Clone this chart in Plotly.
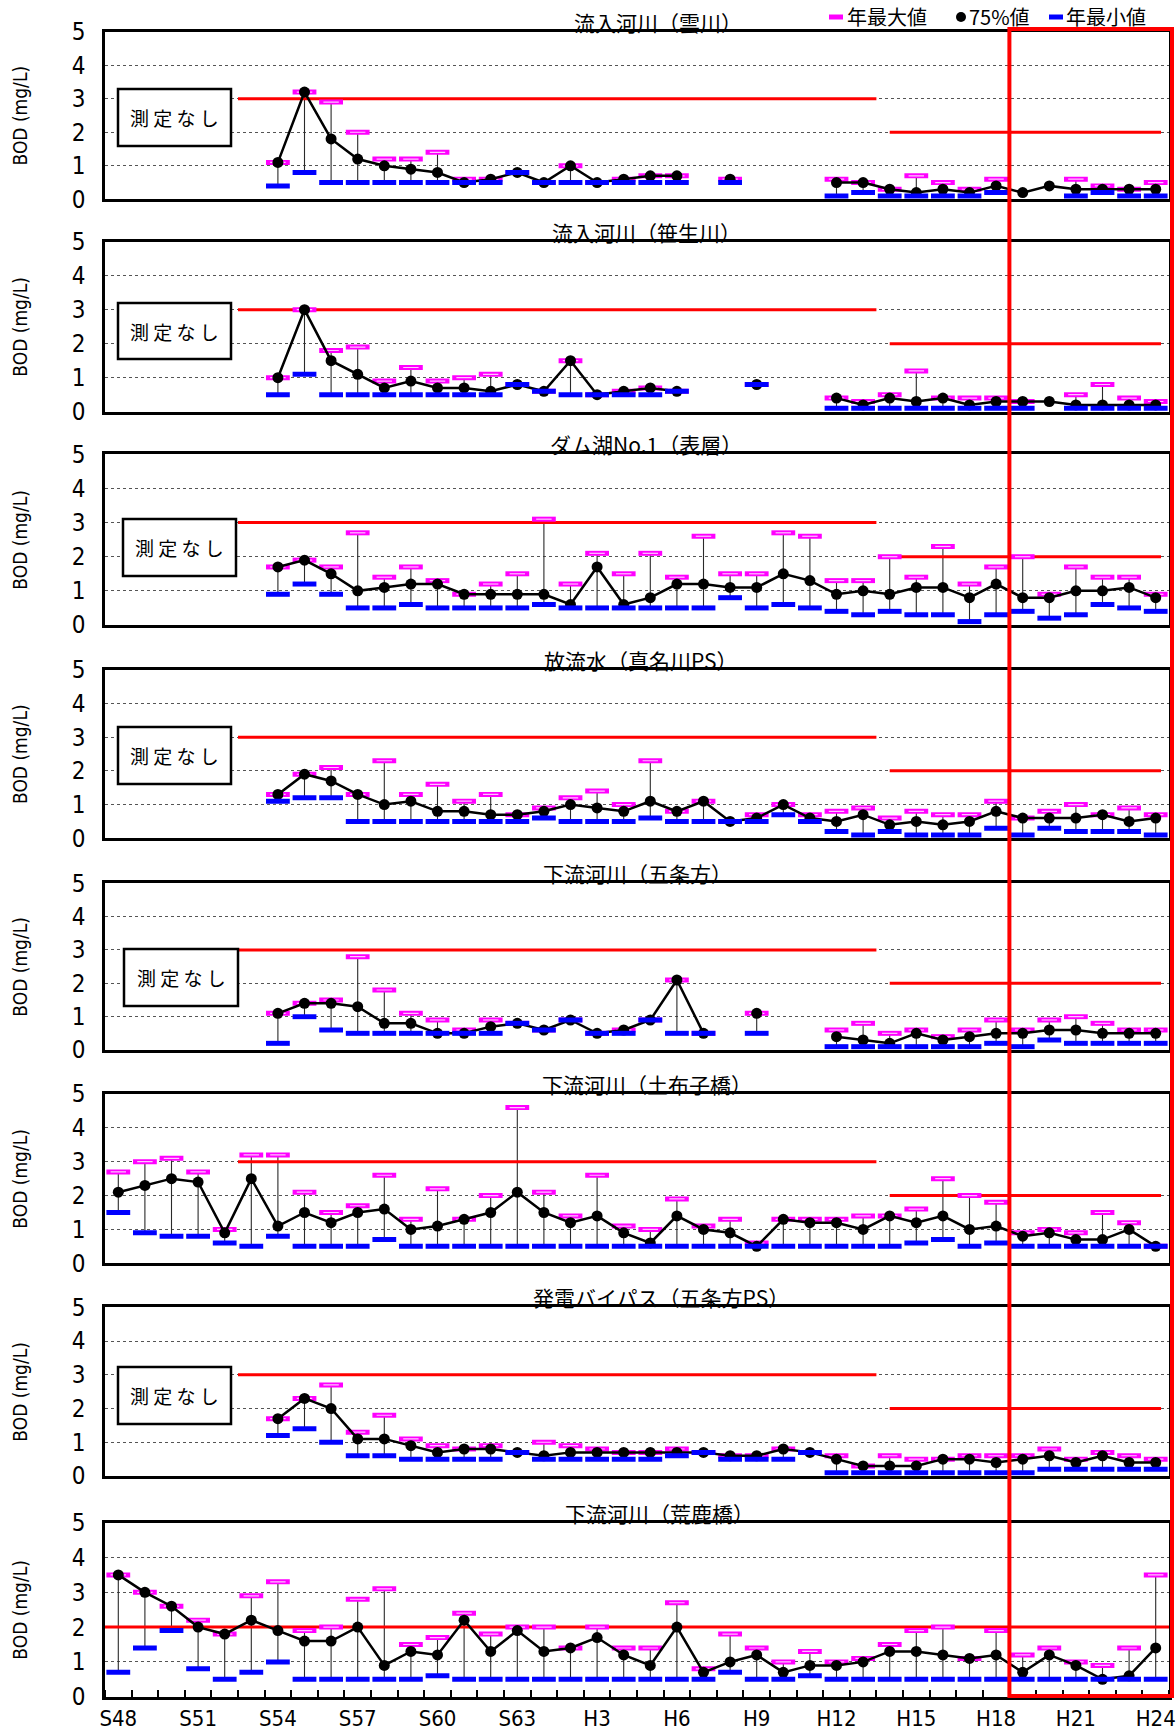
import plotly.graph_objects as go

# ---------------- data ----------------
years = [f"S{y}" for y in range(48, 64)] + [f"H{y}" for y in range(1, 25)]
tick_labels = ["S48", "S51", "S54", "S57", "S60", "S63", "H3", "H6", "H9",
               "H12", "H15", "H18", "H21", "H24"]

N = None
titles = ["流入河川（雲川）", "流入河川（笹生川）", "ダム湖No.1（表層）", "放流水（真名川PS）",
          "下流河川（五条方）", "下流河川（土布子橋）", "発電バイパス（五条方PS）", "下流河川（荒鹿橋）"]

# 1 流入河川(雲川)
kumo_p75 = [N]*6 + [1.1, 3.2, 1.8, 1.2, 1.0, 0.9, 0.8, 0.5, 0.6, 0.8, 0.5, 1.0, 0.5, 0.6, 0.7, 0.7] + [N, 0.6, N, N, N] + \
           [0.5, 0.5, 0.3, 0.2, 0.3, 0.2, 0.4, 0.2, 0.4, 0.3, 0.3, 0.3, 0.3]
kumo_max = [N]*6 + [1.1, 3.2, 2.9, 2.0, 1.2, 1.2, 1.4, 0.6, 0.6, 0.8, 0.5, 1.0, 0.5, 0.6, 0.7, 0.7] + [N, 0.6, N, N, N] + \
           [0.6, 0.5, 0.3, 0.7, 0.5, 0.3, 0.6, N, N, 0.6, 0.4, 0.3, 0.5]
kumo_min = [N]*6 + [0.4, 0.8, 0.5, 0.5, 0.5, 0.5, 0.5, 0.5, 0.5, 0.8, 0.5, 0.5, 0.5, 0.5, 0.5, 0.5] + [N, 0.5, N, N, N] + \
           [0.1, 0.2, 0.1, 0.1, 0.1, 0.1, 0.2, N, N, 0.1, 0.2, 0.1, 0.1]

# 2 流入河川(笹生川)
sasou_p75 = [N]*6 + [1.0, 3.0, 1.5, 1.1, 0.7, 0.9, 0.7, 0.7, 0.6, 0.8, 0.6, 1.5, 0.5, 0.6, 0.7, 0.6] + [N, N, 0.8, N, N] + \
            [0.4, 0.2, 0.4, 0.3, 0.4, 0.2, 0.3, 0.3, 0.3, 0.2, 0.2, 0.2, 0.2]
sasou_max = [N]*6 + [1.0, 3.0, 1.8, 1.9, 0.9, 1.3, 0.9, 1.0, 1.1, 0.8, 0.6, 1.5, 0.5, 0.6, 0.7, 0.6] + [N, N, 0.8, N, N] + \
            [0.4, 0.3, 0.5, 1.2, 0.4, 0.4, 0.4, 0.3, N, 0.5, 0.8, 0.4, 0.3]
sasou_min = [N]*6 + [0.5, 1.1, 0.5, 0.5, 0.5, 0.5, 0.5, 0.5, 0.5, 0.8, 0.6, 0.5, 0.5, 0.5, 0.5, 0.6] + [N, N, 0.8, N, N] + \
            [0.1, 0.1, 0.1, 0.1, 0.1, 0.1, 0.1, 0.1, N, 0.1, 0.1, 0.1, 0.1]

# 3 ダム湖No.1(表層)
dam_p75 = [N]*6 + [1.7, 1.9, 1.5, 1.0, 1.1, 1.2, 1.2, 0.9, 0.9, 0.9, 0.9, 0.6, 1.7, 0.6, 0.8, 1.2, 1.2,
                   1.1, 1.1, 1.5, 1.3, 0.9, 1.0, 0.9, 1.1, 1.1, 0.8, 1.2, 0.8, 0.8, 1.0, 1.0, 1.1, 0.8]
dam_max = [N]*6 + [1.7, 1.9, 1.7, 2.7, 1.4, 1.7, 1.3, 0.9, 1.2, 1.5, 3.1, 1.2, 2.1, 1.5, 2.1, 1.4, 2.6,
                   1.5, 1.5, 2.7, 2.6, 1.3, 1.3, 2.0, 1.4, 2.3, 1.2, 1.7, 2.0, 0.9, 1.7, 1.4, 1.4, 0.9]
dam_min = [N]*6 + [0.9, 1.2, 0.9, 0.5, 0.5, 0.6, 0.5, 0.5, 0.5, 0.5, 0.6, 0.5, 0.5, 0.5, 0.5, 0.5, 0.5,
                   0.8, 0.5, 0.6, 0.5, 0.4, 0.3, 0.4, 0.3, 0.3, 0.1, 0.3, 0.4, 0.2, 0.3, 0.6, 0.5, 0.4]

# 4 放流水(真名川PS)
hou_p75 = [N]*6 + [1.3, 1.9, 1.7, 1.3, 1.0, 1.1, 0.8, 0.8, 0.7, 0.7, 0.8, 1.0, 0.9, 0.8, 1.1, 0.8, 1.1,
                   0.5, 0.6, 1.0, 0.6, 0.5, 0.7, 0.4, 0.5, 0.4, 0.5, 0.8, 0.6, 0.6, 0.6, 0.7, 0.5, 0.6]
hou_max = [N]*6 + [1.3, 1.9, 2.1, 1.3, 2.3, 1.3, 1.6, 1.1, 1.3, 0.7, 0.9, 1.2, 1.4, 1.0, 2.3, 0.8, 1.1,
                   0.5, 0.7, 1.0, 0.7, 0.8, 0.9, 0.6, 0.8, 0.7, 0.7, 1.1, 0.6, 0.8, 1.0, 0.7, 0.9, 0.7]
hou_min = [N]*6 + [1.1, 1.2, 1.2, 0.5, 0.5, 0.5, 0.5, 0.5, 0.5, 0.5, 0.6, 0.5, 0.5, 0.5, 0.6, 0.5, 0.5,
                   0.5, 0.5, 0.7, 0.5, 0.2, 0.1, 0.2, 0.1, 0.1, 0.1, 0.3, 0.1, 0.3, 0.2, 0.2, 0.2, 0.1]

# 5 下流河川(五条方)
gojo_p75 = [N]*6 + [1.1, 1.4, 1.4, 1.3, 0.8, 0.8, 0.5, 0.5, 0.7, 0.8, 0.6, 0.9, 0.5, 0.6, 0.9, 2.1, 0.5] + [N, 1.1, N, N] + \
           [0.4, 0.3, 0.2, 0.5, 0.3, 0.4, 0.5, 0.5, 0.6, 0.6, 0.5, 0.5, 0.5]
gojo_max = [N]*6 + [1.1, 1.4, 1.5, 2.8, 1.8, 1.1, 0.9, 0.6, 0.9, 0.8, 0.6, 0.9, 0.5, 0.6, 0.9, 2.1, 0.5] + [N, 1.1, N, N] + \
           [0.6, 0.8, 0.5, 0.6, 0.4, 0.6, 0.9, 0.6, 0.9, 1.0, 0.8, 0.6, 0.6]
gojo_min = [N]*6 + [0.2, 1.0, 0.6, 0.5, 0.5, 0.5, 0.5, 0.5, 0.5, 0.8, 0.6, 0.9, 0.5, 0.5, 0.9, 0.5, 0.5] + [N, 0.5, N, N] + \
           [0.1, 0.1, 0.1, 0.1, 0.1, 0.1, 0.2, 0.1, 0.3, 0.2, 0.2, 0.2, 0.2]

# 6 下流河川(土布子橋)
dobu_p75 = [2.1, 2.3, 2.5, 2.4, 0.9, 2.5, 1.1, 1.5, 1.2, 1.5, 1.6, 1.0, 1.1, 1.3, 1.5, 2.1, 1.5, 1.2, 1.4, 0.9,
            0.6, 1.4, 1.0, 0.9, 0.5, 1.3, 1.2, 1.2, 1.0, 1.4, 1.2, 1.4, 1.0, 1.1, 0.8, 0.9, 0.7, 0.7, 1.0, 0.5]
dobu_max = [2.7, 3.0, 3.1, 2.7, 1.0, 3.2, 3.2, 2.1, 1.5, 1.7, 2.6, 1.3, 2.2, 1.3, 2.0, 4.6, 2.1, 1.4, 2.6, 1.1,
            1.0, 1.9, 1.1, 1.3, 0.6, 1.3, 1.3, 1.3, 1.4, 1.4, 1.6, 2.5, 2.0, 1.8, 0.9, 1.0, 0.9, 1.5, 1.2, 0.5]
dobu_min = [1.5, 0.9, 0.8, 0.8, 0.6, 0.5, 0.8, 0.5, 0.5, 0.5, 0.7, 0.5, 0.5, 0.5, 0.5, 0.5, 0.5, 0.5, 0.5, 0.5,
            0.5, 0.5, 0.5, 0.5, 0.5, 0.5, 0.5, 0.5, 0.5, 0.5, 0.6, 0.7, 0.5, 0.6, 0.5, 0.5, 0.5, 0.5, 0.5, 0.5]

# 7 発電バイパス(五条方PS)
byp_p75 = [N]*6 + [1.7, 2.3, 2.0, 1.1, 1.1, 0.9, 0.7, 0.8, 0.8, 0.7, 0.6, 0.7, 0.7, 0.7, 0.7, 0.7, 0.7,
                   0.6, 0.6, 0.8, 0.7, 0.5, 0.3, 0.3, 0.3, 0.5, 0.5, 0.4, 0.5, 0.6, 0.4, 0.6, 0.4, 0.4]
byp_max = [N]*6 + [1.7, 2.3, 2.7, 1.3, 1.8, 1.1, 0.9, 0.8, 0.9, 0.7, 1.0, 0.9, 0.8, 0.7, 0.7, 0.8, 0.7,
                   0.6, 0.6, 0.8, 0.7, 0.6, 0.3, 0.6, 0.5, 0.5, 0.6, 0.6, 0.6, 0.8, 0.5, 0.7, 0.6, 0.5]
byp_min = [N]*6 + [1.2, 1.4, 1.0, 0.6, 0.6, 0.5, 0.5, 0.5, 0.5, 0.7, 0.5, 0.5, 0.5, 0.5, 0.5, 0.6, 0.7,
                   0.5, 0.5, 0.5, 0.7, 0.1, 0.1, 0.1, 0.1, 0.1, 0.1, 0.1, 0.1, 0.2, 0.2, 0.2, 0.2, 0.2]

# 8 下流河川(荒鹿橋)
ara_p75 = [3.5, 3.0, 2.6, 2.0, 1.8, 2.2, 1.9, 1.6, 1.6, 2.0, 0.9, 1.3, 1.2, 2.2, 1.3, 1.9, 1.3, 1.4, 1.7, 1.2,
           0.9, 2.0, 0.7, 1.0, 1.2, 0.7, 0.9, 0.9, 1.0, 1.3, 1.3, 1.2, 1.1, 1.2, 0.7, 1.2, 0.9, 0.5, 0.6, 1.4]
ara_max = [3.5, 3.0, 2.6, 2.2, 1.8, 2.9, 3.3, 1.9, 2.0, 2.8, 3.1, 1.5, 1.7, 2.4, 1.8, 2.0, 2.0, 1.4, 2.0, 1.4,
           1.4, 2.7, 0.8, 1.8, 1.4, 1.0, 1.3, 1.0, 1.1, 1.5, 1.9, 2.0, 1.1, 1.9, 1.2, 1.4, 1.0, 0.9, 1.4, 3.5]
ara_min = [0.7, 1.4, 1.9, 0.8, 0.5, 0.7, 1.0, 0.5, 0.5, 0.5, 0.5, 0.5, 0.6, 0.5, 0.5, 0.5, 0.5, 0.5, 0.5, 0.5,
           0.5, 0.5, 0.5, 0.7, 0.5, 0.5, 0.6, 0.5, 0.5, 0.5, 0.5, 0.5, 0.5, 0.5, 0.5, 0.5, 0.5, 0.5, 0.5, 0.5]

# environmental standard values (mg/L)
std_old, std_new = 3.0, 2.0
std_ara = 2.0

series = [
    (kumo_p75, kumo_max, kumo_min),
    (sasou_p75, sasou_max, sasou_min),
    (dam_p75, dam_max, dam_min),
    (hou_p75, hou_max, hou_min),
    (gojo_p75, gojo_max, gojo_min),
    (dobu_p75, dobu_max, dobu_min),
    (byp_p75, byp_max, byp_min),
    (ara_p75, ara_max, ara_min),
]
no_data_note = [True, True, True, True, True, False, True, False]

# ---------------- layout geometry (pixels) ----------------
W, H = 1176, 1731
PL, PR = 105, 1169
tops = [31.7, 241.7, 454.3, 669.7, 883.3, 1094.0, 1307.3, 1522.7]
bots = [199.3, 411.7, 625.0, 838.3, 1050.0, 1263.3, 1476.0, 1696.7]
title_cx = [658, 646, 646, 641, 637, 647, 661, 659]
note_boxes = [(118, 89, 231, 146), (118, 303, 231, 359), (123, 519, 236, 576), (118, 727, 231, 784),
              (124, 949, 238, 1006), None, (118, 1367, 231, 1424), None]

def fx(x):
    return x / W

def fy(y):
    return 1 - y / H

nyr = len(years)
xi = list(range(nyr))

def xpos(v):
    return PL + (v + 0.5) / nyr * (PR - PL)

NUM_FONT = "Liberation Sans Narrow, Arial Narrow, DejaVu Sans Condensed, sans-serif"
JP_FONT = "Noto Sans CJK JP, sans-serif"
MIX_FONT = "Liberation Sans Narrow, Noto Sans CJK JP, sans-serif"

fig = go.Figure()
layout = dict(template="none", width=W, height=H, autosize=False,
              margin=dict(l=0, r=0, t=0, b=0, pad=0),
              paper_bgcolor="white", plot_bgcolor="white", showlegend=False,
              font=dict(family=MIX_FONT, color="black"))
shapes = []
annotations = []

for k in range(8):
    s = "" if k == 0 else str(k + 1)
    xa, ya = "x" + s, "y" + s
    p75, mx, mn = series[k]

    # vertical min-max lines
    vx, vy = [], []
    for i in xi:
        if mx[i] is not None and mn[i] is not None:
            vx += [i, i, None]
            vy += [mn[i], mx[i], None]
    fig.add_trace(go.Scatter(x=vx, y=vy, mode="lines", line=dict(color="#2a2a2a", width=1.1),
                             xaxis=xa, yaxis=ya, hoverinfo="skip"))

    # standard lines
    if k == 7:
        segs = [(-0.5, 39.5, std_ara)]
    else:
        segs = [(4.5, 28.5, std_old), (29.0, 39.2, std_new)]
    for x0, x1, v in segs:
        fig.add_trace(go.Scatter(x=[x0, x1], y=[v, v], mode="lines", line=dict(color="#ff0000", width=3),
                                 xaxis=xa, yaxis=ya, hoverinfo="skip"))

    # max markers
    fig.add_trace(go.Scatter(x=xi, y=mx, mode="markers",
                             marker=dict(symbol="line-ew", size=17, line=dict(color="#ff00ff", width=5)),
                             xaxis=xa, yaxis=ya))
    fig.add_trace(go.Scatter(x=xi, y=mx, mode="markers",
                             marker=dict(symbol="line-ew", size=11, line=dict(color="#ffc8ff", width=1.2)),
                             xaxis=xa, yaxis=ya, hoverinfo="skip"))
    # 75% values
    fig.add_trace(go.Scatter(x=xi, y=p75, mode="lines+markers", connectgaps=False,
                             line=dict(color="black", width=2.5),
                             marker=dict(symbol="circle", size=11, color="black"),
                             xaxis=xa, yaxis=ya))
    # min markers
    fig.add_trace(go.Scatter(x=xi, y=mn, mode="markers",
                             marker=dict(symbol="line-ew", size=17, line=dict(color="#0000ff", width=5)),
                             xaxis=xa, yaxis=ya))

    bottom = (k == 7)
    xaxis = dict(domain=[fx(PL), fx(PR)], anchor=ya, range=[-0.5, nyr - 0.5], automargin=False,
                 showgrid=False, zeroline=False, showline=True, mirror=True,
                 linecolor="black", linewidth=2.5,
                 tickmode="array", tickvals=[years.index(t) for t in tick_labels], ticktext=tick_labels,
                 ticks="", showticklabels=bottom,
                 tickfont=dict(family=NUM_FONT, size=22, color="black"))
    if bottom:
        xaxis["minor"] = dict(ticks="inside", tickmode="linear", tick0=-0.5, dtick=1,
                              ticklen=7, tickwidth=1.5, tickcolor="black", showgrid=False)
    yaxis = dict(domain=[fy(bots[k]), fy(tops[k])], anchor=xa, range=[0, 5], automargin=False,
                 tickmode="array", tickvals=[0, 1, 2, 3, 4, 5],
                 showgrid=True, gridcolor="#555555", griddash="dot", gridwidth=1,
                 zeroline=False, showline=True, mirror=True, linecolor="black", linewidth=2.5,
                 ticks="", ticklabelstandoff=12,
                 tickfont=dict(family=NUM_FONT, size=24, color="black"))
    layout["xaxis" + s] = xaxis
    layout["yaxis" + s] = yaxis

    # title
    annotations.append(dict(x=fx(title_cx[k]), y=fy(tops[k] - 10), xref="paper", yref="paper",
                            text=titles[k], showarrow=False, xanchor="center", yanchor="middle",
                            font=dict(family=JP_FONT, size=21, color="black")))
    # y-axis title
    annotations.append(dict(x=fx(20), y=fy((tops[k] + bots[k]) / 2), xref="paper", yref="paper",
                            text="BOD (mg/L)", showarrow=False, textangle=-90,
                            xanchor="center", yanchor="middle",
                            font=dict(family=NUM_FONT, size=19, color="black")))
    # 測定なし box
    if no_data_note[k] and note_boxes[k] is not None:
        x0, y0, x1, y1 = note_boxes[k]
        shapes.append(dict(type="rect", xref="paper", yref="paper", x0=fx(x0), x1=fx(x1),
                           y0=fy(y1), y1=fy(y0), fillcolor="white",
                           line=dict(color="black", width=2.5), layer="above"))
        annotations.append(dict(x=fx((x0 + x1) / 2), y=fy((y0 + y1) / 2), xref="paper", yref="paper",
                                text="測 定 な し", showarrow=False, xanchor="center", yanchor="middle",
                                font=dict(family=JP_FONT, size=19, color="black")))

# red frame around H19-H24
shapes.append(dict(type="rect", xref="paper", yref="paper",
                   x0=fx(xpos(33.5)), x1=fx(1172), y0=fy(1696), y1=fy(29),
                   line=dict(color="#ff0000", width=4), fillcolor="rgba(0,0,0,0)", layer="above"))

# legend (top right)
ly = 17
shapes.append(dict(type="rect", xref="paper", yref="paper", x0=fx(829), x1=fx(843),
                   y0=fy(ly + 2.5), y1=fy(ly - 2.5), fillcolor="#ff00ff", line=dict(width=0)))
shapes.append(dict(type="circle", xref="paper", yref="paper", x0=fx(956), x1=fx(966),
                   y0=fy(ly + 5), y1=fy(ly - 5), fillcolor="black", line=dict(width=0)))
shapes.append(dict(type="rect", xref="paper", yref="paper", x0=fx(1049), x1=fx(1063),
                   y0=fy(ly + 2.5), y1=fy(ly - 2.5), fillcolor="#0000ff", line=dict(width=0)))
for xl, txt in [(845, "年最大値"), (967, "75%値"), (1064, "年最小値")]:
    annotations.append(dict(x=fx(xl), y=fy(ly), xref="paper", yref="paper", text=txt,
                            showarrow=False, xanchor="left", yanchor="middle",
                            font=dict(family=MIX_FONT, size=20, color="black")))

layout["shapes"] = shapes
layout["annotations"] = annotations
fig.update_layout(**layout)

fig.write_html("out.html", config={"displayModeBar": False},
               post_script="document.body.style.margin='0';document.body.style.overflow='hidden';")
